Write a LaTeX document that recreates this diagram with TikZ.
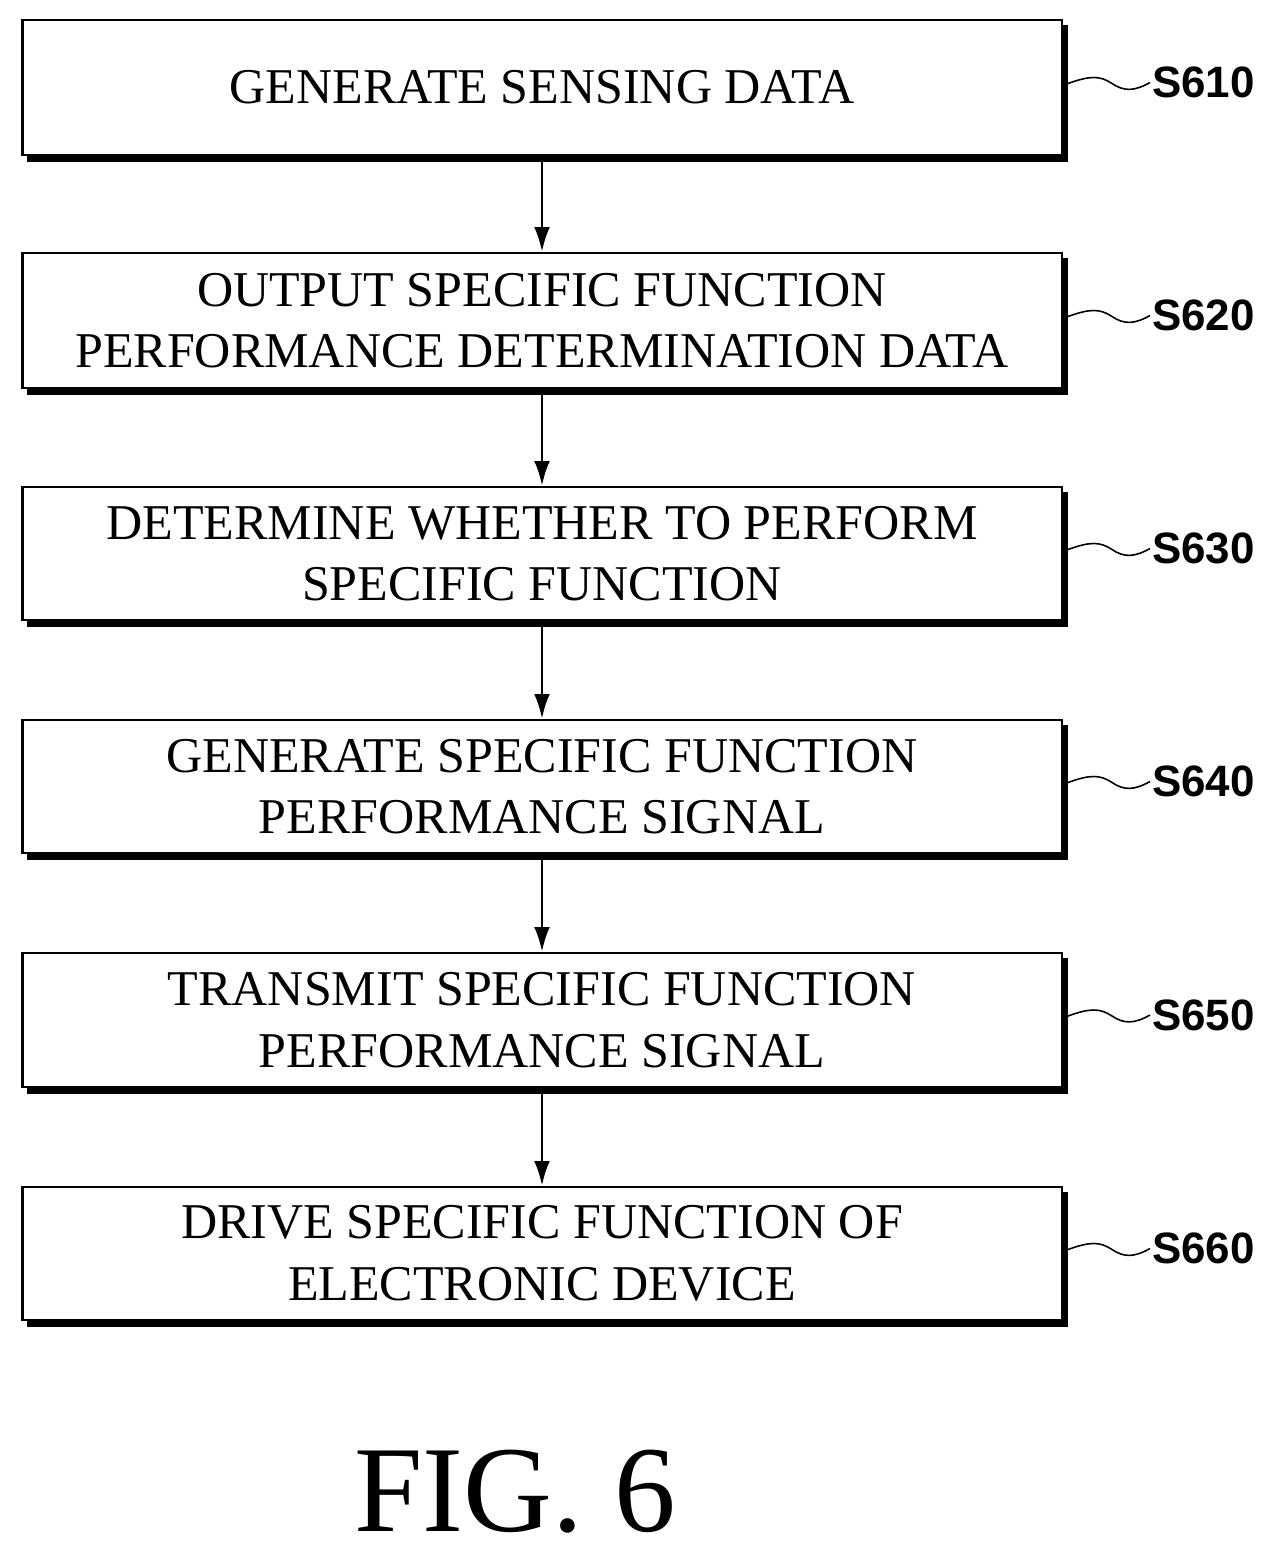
\documentclass[tikz,border=0pt]{standalone}
\usepackage{fontspec}
\setmainfont{Liberation Serif}
\newfontfamily\labelfont{Liberation Sans}
\usetikzlibrary{positioning,arrows.meta}
\tikzset{
  stepbox/.style={draw, line width=1.6pt, fill=white, minimum width=20.8cm,
    minimum height=2.68cm, align=center, font=\fontsize{28.5}{35}\selectfont},
  steplabel/.style={font=\labelfont\bfseries\fontsize{25}{30}\selectfont, anchor=west},
  flow/.style={-{Latex[length=14pt,width=9pt]}, line width=1.4pt}
}
\begin{document}
\begin{tikzpicture}[x=0.02cm,y=-0.02cm]
\useasboundingbox (0,0) rectangle (1282,1563);
\foreach \name/\ya/\yb/\txt/\lbl in {
  s610/20/155/{GENERATE SENSING DATA}/S610,
  s620/253/388/{OUTPUT SPECIFIC FUNCTION\\PERFORMANCE DETERMINATION DATA}/S620,
  s630/487/620/{DETERMINE WHETHER TO PERFORM\\SPECIFIC FUNCTION}/S630,
  s640/720/853/{GENERATE SPECIFIC FUNCTION\\PERFORMANCE SIGNAL}/S640,
  s650/953/1087/{TRANSMIT SPECIFIC FUNCTION\\PERFORMANCE SIGNAL}/S650,
  s660/1187/1320/{DRIVE SPECIFIC FUNCTION OF\\ELECTRONIC DEVICE}/S660}{
  % shadow
  \fill (27,\ya+5) rectangle (1068,\yb+7);
  \node[stepbox, minimum height={(\yb-\ya)*0.02cm}] (\name) at (542,{(\ya+\yb)/2}) {\txt};
  \coordinate (\name l) at (1150,{(\ya+\yb)/2-5});
  \draw[line width=0.9pt] (1068,{(\ya+\yb)/2-4}) .. controls (1090,{(\ya+\yb)/2-12}) and (1100,{(\ya+\yb)/2-12}) .. (1112,{(\ya+\yb)/2-4}) .. controls (1124,{(\ya+\yb)/2+4}) and (1134,{(\ya+\yb)/2+4}) .. (\name l);
  \node[steplabel, inner sep=1pt] at (\name l) {\lbl};
}
\foreach \a/\b in {s610/s620,s620/s630,s630/s640,s640/s650,s650/s660}
  \draw[flow] (\a.south) -- (\b.north);
\node[font=\fontsize{70}{76}\selectfont] (fig) at (515,1492) {FIG. 6};
\end{tikzpicture}
\end{document}
